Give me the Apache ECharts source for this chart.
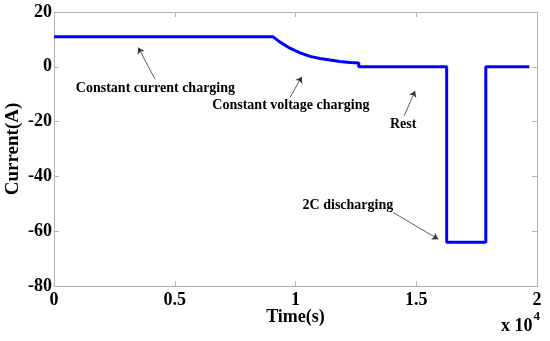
<!DOCTYPE html>
<html>
<head>
<meta charset="utf-8">
<script src="https://cdn.jsdelivr.net/npm/echarts@6/dist/echarts.min.js"></script>
<style>
html,body{margin:0;padding:0;background:#fff;}
#chart{width:550px;height:341px;}
</style>
</head>
<body>
<div id="chart"></div>
<script>
// Data (time in seconds, current in A)
var timeS = [0, 9060, 9360, 9770, 10190, 10600, 11010, 11430, 11840, 12260, 12620, 12620, 16260, 16260, 17880, 17880, 19680];
var currentA = [11, 11, 9.0, 6.8, 5.1, 3.8, 3.06, 2.5, 1.96, 1.6, 1.35, 0, 0, -64, -64, 0, 0];

// Tick values
var xTicks = [0, 5000, 10000, 15000, 20000];
var yTicks = [-80, -60, -40, -20, 0, 20];

// Annotations (data coordinates)
var annoText = ['Constant current charging', 'Constant voltage charging', 'Rest', '2C discharging'];
var annoX = [4200, 9810, 14460, 12170];
var annoY = [-8, -14.2, -21.2, -50.7];
var arrowTailX = [4180, 9770, 14500, 14050];
var arrowTailY = [-4.5, -11.2, -17.9, -53.2];
var arrowTipX = [3490, 10260, 14950, 15910];
var arrowTipY = [7.0, -3.65, -8.8, -62.9];

var seriesData = timeS.map(function (t, i) { return [t, currentA[i]]; });

var arrowLines = arrowTailX.map(function (x, i) {
  return [{ coord: [x, arrowTailY[i]] }, { coord: [arrowTipX[i], arrowTipY[i]] }];
});
var textPoints = annoText.map(function (t, i) {
  return { name: t, coord: [annoX[i], annoY[i]] };
});

var axisColor = '#b4b4b4';
var font = 'Liberation Serif';

var chart = echarts.init(document.getElementById('chart'), null, { renderer: 'canvas' });
var xMin = xTicks[0], xMax = xTicks[xTicks.length - 1];
var yMin = yTicks[0], yMax = yTicks[yTicks.length - 1];

chart.setOption({
  animation: false,
  backgroundColor: '#fff',
  grid: { left: 54, right: 13, top: 12, bottom: 55, containLabel: false, outerBoundsMode: 'none' },
  xAxis: [{
    type: 'value', min: xMin, max: xMax, interval: 5000,
    name: 'Time(s)', nameLocation: 'middle', nameGap: 22, nameMoveOverlap: false,
    nameTextStyle: { fontFamily: font, fontWeight: 'bold', fontSize: 18, color: '#000' },
    axisLine: { show: true, onZero: false, lineStyle: { color: axisColor, width: 1 } },
    axisTick: { show: true, inside: true, length: 5, lineStyle: { color: axisColor } },
    axisLabel: { fontFamily: font, fontWeight: 'bold', fontSize: 18, color: '#000', margin: 5,
      formatter: function (v) { return String(v / 10000); } },
    splitLine: { show: false }
  }, {
    type: 'value', min: xMin, max: xMax, interval: 5000, position: 'top',
    axisLine: { show: true, onZero: false, lineStyle: { color: axisColor, width: 1 } },
    axisTick: { show: true, inside: true, length: 5, lineStyle: { color: axisColor } },
    axisLabel: { show: false }, splitLine: { show: false }
  }],
  yAxis: [{
    type: 'value', min: yMin, max: yMax, interval: 20,
    name: 'Current(A)', nameLocation: 'middle', nameGap: 31, nameMoveOverlap: false,
    nameTextStyle: { fontFamily: font, fontWeight: 'bold', fontSize: 19, color: '#000' },
    axisLine: { show: true, onZero: false, lineStyle: { color: axisColor, width: 1 } },
    axisTick: { show: true, inside: true, length: 5, lineStyle: { color: axisColor } },
    axisLabel: { fontFamily: font, fontWeight: 'bold', fontSize: 18, color: '#000', margin: 2 },
    splitLine: { show: false }
  }, {
    type: 'value', min: yMin, max: yMax, interval: 20, position: 'right',
    axisLine: { show: true, onZero: false, lineStyle: { color: axisColor, width: 1 } },
    axisTick: { show: true, inside: true, length: 5, lineStyle: { color: axisColor } },
    axisLabel: { show: false }, splitLine: { show: false }
  }],
  graphic: [{
    type: 'text', right: 10, bottom: 6,
    style: {
      text: '{b|x 10}{s|4}',
      rich: {
        b: { fontFamily: font, fontWeight: 'bold', fontSize: 18, fill: '#000', verticalAlign: 'bottom' },
        s: { fontFamily: font, fontWeight: 'bold', fontSize: 13, fill: '#000', verticalAlign: 'top', padding: [0, 0, 12, 1] }
      }
    }
  }],
  series: [{
    type: 'line',
    data: seriesData,
    showSymbol: false,
    symbol: 'none',
    lineStyle: { color: '#0000ff', width: 3 },
    silent: true,
    markLine: {
      silent: true,
      symbol: ['none', 'arrow'],
      symbolSize: 6,
      label: { show: false },
      lineStyle: { color: '#333', width: 0.8, type: 'solid' },
      data: arrowLines
    },
    markPoint: {
      silent: true,
      symbol: 'circle',
      symbolSize: 1,
      itemStyle: { color: 'rgba(0,0,0,0)' },
      label: {
        show: true, position: 'inside',
        fontFamily: font, fontWeight: 'bold', fontSize: 14, color: '#000',
        formatter: function (p) { return p.name; }
      },
      data: textPoints
    }
  }]
});
</script>
</body>
</html>
